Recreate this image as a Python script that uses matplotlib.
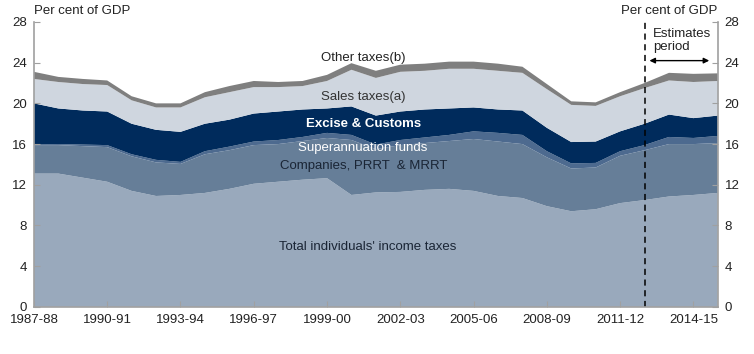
import matplotlib
matplotlib.use("Agg")
import matplotlib.pyplot as plt
import numpy as np

plt.rcParams["font.family"] = ["Liberation Sans", "DejaVu Sans"]

# Financial years 1987-88 .. 2015-16
YEARS = [f"{y}-{str(y + 1)[-2:]}" for y in range(1987, 2016)]
TICK_EVERY = 3
ESTIMATES_START = "2012-13"

# Per cent of GDP
individuals = [13.1, 13.1, 12.7, 12.3, 11.4, 10.9, 11.0, 11.2, 11.6, 12.1,
               12.3, 12.5, 12.65, 11.0, 11.25, 11.3, 11.5, 11.6, 11.4, 10.9,
               10.7, 9.9, 9.4, 9.6, 10.2, 10.5, 10.85, 11.0, 11.2]
companies = [2.8, 2.8, 3.1, 3.4, 3.4, 3.3, 3.05, 3.8, 3.8, 3.8,
             3.7, 3.8, 3.95, 5.4, 4.25, 4.6, 4.6, 4.7, 5.1, 5.35,
             5.3, 4.8, 4.2, 4.1, 4.65, 4.9, 5.15, 5.0, 4.9]
superannuation = [0.05, 0.1, 0.15, 0.2, 0.2, 0.25, 0.2, 0.3, 0.35, 0.35,
                  0.4, 0.4, 0.5, 0.5, 0.45, 0.5, 0.55, 0.6, 0.75, 0.85,
                  0.9, 0.6, 0.5, 0.45, 0.45, 0.5, 0.7, 0.6, 0.7]
excise = [4.05, 3.5, 3.35, 3.3, 3.0, 2.95, 2.95, 2.7, 2.65, 2.75,
          2.8, 2.7, 2.4, 2.8, 2.85, 2.8, 2.75, 2.6, 2.35, 2.3,
          2.4, 2.3, 2.1, 2.1, 1.95, 2.1, 2.2, 1.95, 2.0]
sales = [2.4, 2.6, 2.6, 2.6, 2.3, 2.2, 2.4, 2.6, 2.7, 2.6,
         2.4, 2.3, 2.7, 3.6, 3.7, 3.9, 3.8, 3.9, 3.8, 3.8,
         3.7, 3.8, 3.65, 3.5, 3.45, 3.5, 3.35, 3.55, 3.4]
other = [0.7, 0.5, 0.5, 0.45, 0.4, 0.4, 0.4, 0.5, 0.6, 0.6,
         0.5, 0.5, 0.6, 0.65, 0.7, 0.7, 0.7, 0.7, 0.7, 0.7,
         0.6, 0.5, 0.35, 0.35, 0.4, 0.5, 0.75, 0.8, 0.75]

colors = ["#99a9bc", "#667e98", "#4d6a8f", "#002b5c", "#cfd6df", "#7f7f7f"]

x = np.arange(len(YEARS))

fig = plt.figure(figsize=(7.54, 3.54), dpi=100)
ax = fig.add_axes([0.045, 0.133, 0.907, 0.805])

ax.stackplot(x, individuals, companies, superannuation, excise, sales, other,
             colors=colors, linewidth=0)

ax.set_xlim(0, len(YEARS) - 1)
ax.set_ylim(0, 28)
ax.set_yticks(range(0, 29, 4))
ax.set_xticks(x[::TICK_EVERY])
ax.set_xticklabels(YEARS[::TICK_EVERY])

grey = "#a0a0a0"
for side in ("left", "right", "bottom"):
    ax.spines[side].set_color(grey)
    ax.spines[side].set_linewidth(1.2)
ax.spines["top"].set_visible(False)
ax.tick_params(axis="both", direction="in", length=4, color=grey,
               labelsize=9.5, labelcolor="#222222")
ax.tick_params(axis="y", which="both", left=True, right=True,
               labelleft=True, labelright=True, pad=5)
ax.tick_params(axis="x", pad=5)

# units
ax.text(0.0, 1.04, "Per cent of GDP", transform=ax.transAxes,
        ha="left", va="center", fontsize=9.5, color="#222222")
ax.text(1.0, 1.04, "Per cent of GDP", transform=ax.transAxes,
        ha="right", va="center", fontsize=9.5, color="#222222")

# estimates period
xe = YEARS.index(ESTIMATES_START)
ax.axvline(xe, color="black", linestyle=(0, (4, 3)), linewidth=1.1)
ax.text(xe + 0.35, 26.2, "Estimates\nperiod", ha="left", va="center",
        fontsize=9.5, color="#222222", linespacing=1.1)
ax.annotate("", xy=(xe + 0.2, 24.2), xytext=(len(YEARS) - 1.35, 24.2),
            arrowprops=dict(arrowstyle="<|-|>", color="black", lw=1.0,
                            mutation_scale=8, shrinkA=0, shrinkB=0))

# series labels
ax.text(13.5, 24.5, "Other taxes(b)", ha="center", va="center",
        fontsize=9.5, color="#222222")
ax.text(13.5, 20.6, "Sales taxes(a)", ha="center", va="center",
        fontsize=9.5, color="#333333")
ax.text(13.5, 18.0, "Excise & Customs", ha="center", va="center",
        fontsize=9.5, color="white", fontweight="bold")
ax.text(13.45, 15.6, "Superannuation funds", ha="center", va="center",
        fontsize=9.5, color="white")
ax.text(13.5, 13.8, "Companies, PRRT  & MRRT", ha="center", va="center",
        fontsize=9.5, color="#1a2535")
ax.text(13.65, 5.9, "Total individuals' income taxes", ha="center", va="center",
        fontsize=9.5, color="#1a2535")

fig.savefig("out.png", dpi=100)
